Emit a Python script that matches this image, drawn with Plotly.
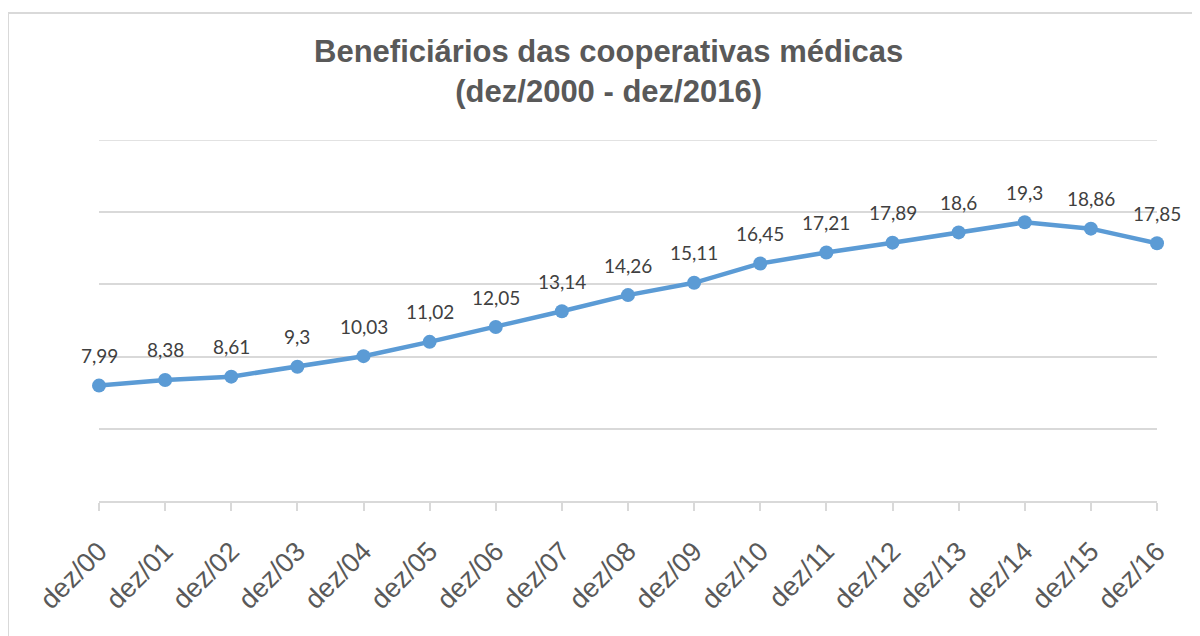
import plotly.graph_objects as go

categories = ["dez/00", "dez/01", "dez/02", "dez/03", "dez/04", "dez/05", "dez/06",
              "dez/07", "dez/08", "dez/09", "dez/10", "dez/11", "dez/12", "dez/13",
              "dez/14", "dez/15", "dez/16"]
values = [7.99, 8.38, 8.61, 9.3, 10.03, 11.02, 12.05, 13.14, 14.26, 15.11,
          16.45, 17.21, 17.89, 18.6, 19.3, 18.86, 17.85]
title_lines = ["Beneficiários das cooperativas médicas", "(dez/2000 - dez/2016)"]
y_max = 25

labels = [str(v).replace(".", ",") for v in values]

fig = go.Figure()
fig.add_trace(go.Scatter(
    x=categories, y=values, mode="lines+markers",
    line=dict(color="#5B9BD5", width=4.5),
    marker=dict(color="#5B9BD5", size=14),
    hoverinfo="skip", showlegend=False, cliponaxis=False,
))

for c, v, t in zip(categories, values, labels):
    fig.add_annotation(x=c, y=v, text=t, showarrow=False, yshift=30,
                       font=dict(family="Lato, Carlito, sans-serif", size=19, color="#404040"))

fig.add_annotation(xref="paper", yref="paper", x=0.482, y=1.191, yanchor="middle",
                   text="<b>" + "<br>".join(title_lines) + "</b>", showarrow=False,
                   font=dict(family="Liberation Sans, Arial, sans-serif", size=31, color="#595959"))

# chart border (cropped at right/bottom in the reference)
fig.add_shape(type="rect", xref="paper", yref="paper", x0=-0.086, y0=-0.6, x1=1.2, y1=1.352,
              line=dict(color="#d9d9d9", width=2), fillcolor="rgba(0,0,0,0)", layer="below")
# top gridline at the axis maximum
fig.add_shape(type="line", xref="paper", yref="y", x0=0, x1=1, y0=y_max, y1=y_max,
              line=dict(color="#d9d9d9", width=1.5), layer="below")

fig.update_layout(
    width=1200, height=636,
    margin=dict(l=91, r=51, t=132, b=143, autoexpand=False),
    paper_bgcolor="white", plot_bgcolor="white",
    xaxis=dict(type="category", range=[0, len(categories) - 1], automargin=False,
               showgrid=False, showline=True, linecolor="#d9d9d9", linewidth=1.5,
               ticks="outside", ticklen=8, tickcolor="#d9d9d9", tickwidth=1.5,
               ticklabelstandoff=14,
               tickangle=-45, tickfont=dict(family="Liberation Sans, Arial, sans-serif",
                                            size=27, color="#595959")),
    yaxis=dict(range=[0, y_max], dtick=5, showgrid=True, gridcolor="#d9d9d9", gridwidth=1.5,
               showticklabels=False, zeroline=False, showline=False, automargin=False),
)

fig.write_html("out.html")
